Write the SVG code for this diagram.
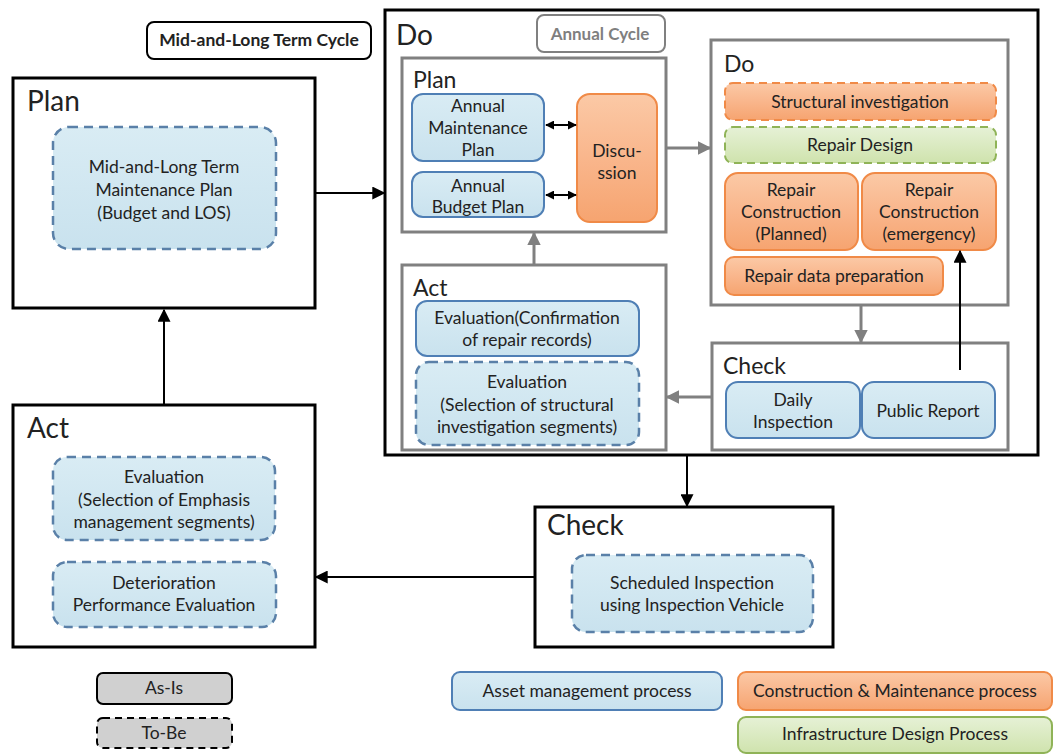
<svg xmlns="http://www.w3.org/2000/svg" width="1058" height="755" viewBox="0 0 1058 755">
<defs>
<linearGradient id="gBlue" x1="0" y1="0" x2="0" y2="1"><stop offset="0" stop-color="#d9ecf4"/><stop offset="1" stop-color="#c9e2ee"/></linearGradient>
<linearGradient id="gOrange" x1="0" y1="0" x2="0" y2="1"><stop offset="0" stop-color="#fbc9a6"/><stop offset="0.5" stop-color="#f9b68c"/><stop offset="1" stop-color="#f6a470"/></linearGradient>
<linearGradient id="gGreen" x1="0" y1="0" x2="0" y2="1"><stop offset="0" stop-color="#e6f1d6"/><stop offset="1" stop-color="#cfe3ad"/></linearGradient>
<marker id="ab" viewBox="0 0 10 10" refX="9" refY="5" markerWidth="6.5" markerHeight="6.5" orient="auto-start-reverse" markerUnits="strokeWidth"><path d="M0,0 L10,5 L0,10 z" fill="#000"/></marker>
<marker id="abs" viewBox="0 0 10 10" refX="9" refY="5" markerWidth="4.5" markerHeight="4.5" orient="auto-start-reverse" markerUnits="strokeWidth"><path d="M0,0 L10,5 L0,10 z" fill="#000"/></marker>
<marker id="ag" viewBox="0 0 10 10" refX="9" refY="5" markerWidth="4.5" markerHeight="4.5" orient="auto-start-reverse" markerUnits="strokeWidth"><path d="M0,0 L10,5 L0,10 z" fill="#808080"/></marker>
</defs>
<style>
text{font-family:Lato,"Liberation Sans",sans-serif;fill:#222}
.t{font-size:17.5px;text-anchor:middle}
.h1{font-size:28px}
.h2{font-size:23px}
.outer{fill:#fff;stroke:#000;stroke-width:3}
.inner{fill:#fff;stroke:#808080;stroke-width:3}
.blue{fill:url(#gBlue);stroke:#4f7fb5;stroke-width:2}
.blued{fill:url(#gBlue);stroke:#5a80a8;stroke-width:2.5;stroke-dasharray:9 6}
.orange{fill:url(#gOrange);stroke:#f08a47;stroke-width:2}
.oranged{fill:url(#gOrange);stroke:#f08a47;stroke-width:2;stroke-dasharray:8 5}
.greend{fill:url(#gGreen);stroke:#8fb357;stroke-width:2;stroke-dasharray:8 5}
.green{fill:url(#gGreen);stroke:#8fb357;stroke-width:2}
.cb{stroke:#000;stroke-width:2;fill:none}
.cg{stroke:#808080;stroke-width:3;fill:none}
</style>

<g id="cycle-label">
<rect x="147" y="22" width="224" height="37" rx="7" fill="#fff" stroke="#000" stroke-width="2"/>
<text x="259" y="46" class="t" style="font-weight:bold;font-size:17.5px">Mid-and-Long Term Cycle</text>
</g>

<g id="plan-outer">
<rect class="outer" x="13" y="78" width="302" height="230"/>
<text x="27" y="111" class="h1">Plan</text>
<rect class="blued" x="53" y="127" width="223" height="122" rx="16"/>
<text x="164" y="173" class="t">Mid-and-Long Term</text>
<text x="164" y="196" class="t">Maintenance Plan</text>
<text x="164" y="219" class="t">(Budget and LOS)</text>
</g>

<g id="act-outer">
<rect class="outer" x="13" y="405" width="302" height="242"/>
<text x="27" y="438" class="h1">Act</text>
<rect class="blued" x="53" y="457" width="222" height="83" rx="14"/>
<text x="164" y="483" class="t">Evaluation</text>
<text x="164" y="506" class="t">(Selection of Emphasis</text>
<text x="164" y="528" class="t">management segments)</text>
<rect class="blued" x="53" y="562" width="223" height="65" rx="14"/>
<text x="164" y="589" class="t">Deterioration</text>
<text x="164" y="611" class="t">Performance Evaluation</text>
</g>

<g id="do-outer">
<rect class="outer" x="385" y="10" width="653" height="445"/>
<text x="396" y="45" class="h1">Do</text>
</g>

<g id="annual-label">
<rect x="537" y="15" width="128" height="37" rx="7" fill="#fff" stroke="#808080" stroke-width="2"/>
<text x="600" y="40" class="t" style="font-weight:bold;font-size:17px;fill:#7f7f7f">Annual Cycle</text>
</g>

<g id="plan-inner">
<rect class="inner" x="402" y="58" width="264" height="174"/>
<text x="413" y="88" class="h2">Plan</text>
</g>
<g id="annual-maint">
<rect class="blue" x="412" y="94" width="132" height="67" rx="11"/>
<text x="478" y="112" class="t">Annual</text>
<text x="478" y="134" class="t">Maintenance</text>
<text x="478" y="156" class="t">Plan</text>
</g>
<g id="annual-budget">
<rect class="blue" x="412" y="172" width="132" height="45" rx="11"/>
<text x="478" y="192" class="t">Annual</text>
<text x="478" y="213" class="t">Budget Plan</text>
</g>
<g id="discussion">
<rect class="orange" x="577" y="94" width="80" height="128" rx="13"/>
<text x="617" y="157" class="t">Discu-</text>
<text x="617" y="179" class="t">ssion</text>
</g>

<g id="do-inner">
<rect class="inner" x="711" y="40" width="297" height="265"/>
<text x="724" y="72" class="h2">Do</text>
</g>
<g id="structural-investigation">
<rect class="oranged" x="725" y="83" width="271" height="37" rx="8"/>
<text x="860" y="108" class="t">Structural investigation</text>
</g>
<g id="repair-design">
<rect class="greend" x="725" y="127" width="271" height="36" rx="8"/>
<text x="860" y="151" class="t">Repair Design</text>
</g>
<g id="repair-planned">
<rect class="orange" x="725" y="173" width="133" height="77" rx="13"/>
<text x="791" y="196" class="t">Repair</text>
<text x="791" y="218" class="t">Construction</text>
<text x="791" y="240" class="t">(Planned)</text>
</g>
<g id="repair-emergency">
<rect class="orange" x="862" y="173" width="134" height="77" rx="13"/>
<text x="929" y="196" class="t">Repair</text>
<text x="929" y="218" class="t">Construction</text>
<text x="929" y="240" class="t">(emergency)</text>
</g>
<g id="repair-data">
<rect class="orange" x="725" y="257" width="218" height="38" rx="9"/>
<text x="834" y="282" class="t">Repair data preparation</text>
</g>

<g id="act-inner">
<rect class="inner" x="402" y="265" width="264" height="185"/>
<text x="413" y="296" class="h2">Act</text>
</g>
<g id="eval-confirm">
<rect class="blue" x="416" y="301" width="223" height="55" rx="11"/>
<text x="527" y="324" class="t">Evaluation(Confirmation</text>
<text x="527" y="346" class="t">of repair records)</text>
</g>
<g id="eval-structural">
<rect class="blued" x="416" y="362" width="223" height="83" rx="13"/>
<text x="527" y="388" class="t">Evaluation</text>
<text x="527" y="411" class="t">(Selection of structural</text>
<text x="527" y="433" class="t">investigation segments)</text>
</g>

<g id="check-inner">
<rect class="inner" x="712" y="343" width="296" height="107"/>
<text x="723" y="374" class="h2">Check</text>
</g>
<g id="daily-inspection">
<rect class="blue" x="726" y="382" width="134" height="56" rx="12"/>
<text x="793" y="406" class="t">Daily</text>
<text x="793" y="428" class="t">Inspection</text>
</g>
<g id="public-report">
<rect class="blue" x="862" y="382" width="133" height="56" rx="12"/>
<text x="928" y="417" class="t">Public Report</text>
</g>

<g id="check-outer">
<rect class="outer" x="535" y="507" width="298" height="140"/>
<text x="547" y="535" class="h1">Check</text>
<rect class="blued" x="572" y="555" width="241" height="77" rx="14"/>
<text x="692" y="589" class="t">Scheduled Inspection</text>
<text x="692" y="611" class="t">using Inspection Vehicle</text>
</g>

<g id="legend">
<rect x="97" y="673" width="135" height="31" rx="6" fill="#d0d0d0" stroke="#000" stroke-width="2"/>
<text x="164" y="694" class="t">As-Is</text>
<rect x="97" y="718" width="135" height="30" rx="6" fill="#d0d0d0" stroke="#000" stroke-width="2" stroke-dasharray="7 5"/>
<text x="164" y="739" class="t">To-Be</text>
<rect class="blue" x="452" y="672" width="270" height="38" rx="8"/>
<text x="587" y="697" class="t">Asset management process</text>
<rect class="orange" x="738" y="672" width="314" height="38" rx="8"/>
<text x="895" y="697" class="t">Construction &amp; Maintenance process</text>
<rect class="green" x="738" y="717" width="314" height="36" rx="8"/>
<text x="895" y="740" class="t">Infrastructure Design Process</text>
</g>

<g id="connectors">
<line class="cb" x1="315" y1="193" x2="384" y2="193" marker-end="url(#ab)"/>
<line class="cb" x1="164" y1="405" x2="164" y2="310" marker-end="url(#ab)"/>
<line class="cb" x1="687" y1="456" x2="687" y2="506" marker-end="url(#ab)"/>
<line class="cb" x1="535" y1="577" x2="316" y2="577" marker-end="url(#ab)"/>
<line class="cb" x1="960" y1="370" x2="960" y2="251" marker-end="url(#ab)"/>
<line class="cb" x1="546" y1="125" x2="576" y2="125" marker-start="url(#abs)" marker-end="url(#abs)"/>
<line class="cb" x1="546" y1="195" x2="576" y2="195" marker-start="url(#abs)" marker-end="url(#abs)"/>
<line class="cg" x1="666" y1="148" x2="710" y2="148" marker-end="url(#ag)"/>
<line class="cg" x1="861" y1="306" x2="861" y2="342" marker-end="url(#ag)"/>
<line class="cg" x1="712" y1="397" x2="667" y2="397" marker-end="url(#ag)"/>
<line class="cg" x1="534" y1="265" x2="534" y2="233" marker-end="url(#ag)"/>
</g>
</svg>
